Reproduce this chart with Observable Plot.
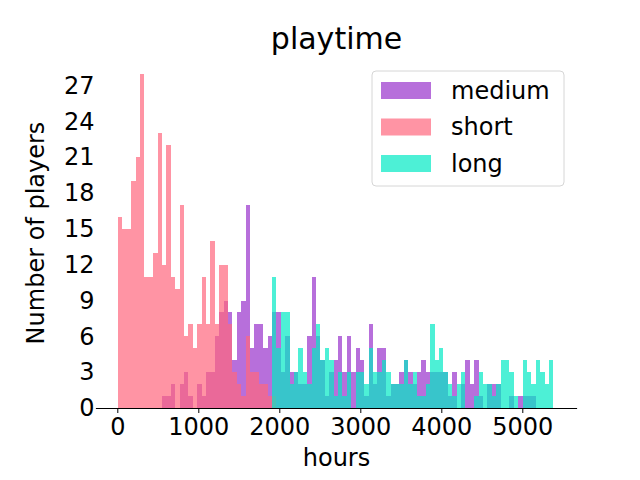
<!DOCTYPE html>
<html>
<head>
<meta charset="utf-8">
<script src="https://cdn.jsdelivr.net/npm/d3@7"></script>
<script src="https://cdn.jsdelivr.net/npm/@observablehq/plot@0.6"></script>
<style>
  html, body { margin: 0; padding: 0; background: #fff; }
  svg { display: block; }
</style>
</head>
<body>
<div id="chart"></div>
<script>
// Shared histogram bins (hours): left edge of bin 0 and bin width
const binStart = 8.6;
const binWidth = 54.3;

// Series names, in drawing order
const seriesNames = ["medium", "short", "long"];
const seriesColors = ["#9932cc", "#ff667d", "#02e9c4"];

// Index of the first bin each series occupies
const mediumFirstBin = 10;
const shortFirstBin = 0;
const longFirstBin = 35;

// Number of players per bin
const mediumCounts = [
  1, 1, 2, 0, 2, 3, 1, 0, 2, 1,
  3, 3, 6, 8, 9, 8, 4, 8, 9, 17,
  5, 7, 7, 5, 6, 8, 8, 3, 6, 3,
  3, 2, 2, 6, 11, 6, 4, 1, 3, 4,
  6, 3, 6, 3, 5, 4, 1, 7, 2, 5,
  5, 1, 2, 2, 3, 4, 3, 2, 3, 4,
  3, 3, 3, 3, 3, 1, 3, 0, 2, 4,
  2, 4, 1, 0, 2, 2, 2, 0, 0, 1,
  0, 1, 1, 1, 1
];
const shortCounts = [
  16, 15, 15, 19, 21, 28, 11, 11, 13, 23,
  12, 22, 11, 10, 17, 6, 7, 5, 7, 11,
  7, 14, 7, 12, 12, 7, 3, 2, 1, 6,
  3, 3, 2, 2, 1, 1
];
const longCounts = [
  11, 5, 8, 8, 2, 3, 5, 3, 2, 5,
  7, 4, 5, 4, 1, 3, 1, 3, 0, 3,
  3, 2, 5, 3, 3, 4, 3, 2, 2, 2,
  4, 2, 3, 1, 1, 2, 7, 4, 5, 3,
  2, 1, 2, 3, 0, 0, 1, 3, 2, 2,
  1, 2, 4, 4, 3, 1, 0, 4, 3, 2,
  4, 3, 2, 4
];

const xTicks = [0, 1000, 2000, 3000, 4000, 5000];
const yTicks = [0, 3, 6, 9, 12, 15, 18, 21, 24, 27];

// Turn a list of counts into rectangles on the shared bin grid
function toBins(counts, firstBin, series) {
  return counts.map((count, k) => {
    const i = firstBin + k;
    return {series, x1: binStart + i * binWidth, x2: binStart + (i + 1) * binWidth, count};
  });
}

const mediumBins = toBins(mediumCounts, mediumFirstBin, "medium");
const shortBins = toBins(shortCounts, shortFirstBin, "short");
const longBins = toBins(longCounts, longFirstBin, "long");

const font = "DejaVu Sans, sans-serif";
const alpha = 0.7;

const chart = Plot.plot({
  width: 640,
  height: 480,
  marginLeft: 96,
  marginRight: 64,
  marginTop: 57,
  marginBottom: 72,
  style: {fontFamily: font, fontSize: "24px", color: "#000", background: "#fff", overflow: "visible"},
  x: {domain: [-263, 5663]},
  y: {domain: [0, 29.4]},
  marks: [
    Plot.rectY(mediumBins, {x1: "x1", x2: "x2", y: "count", fill: seriesColors[0], fillOpacity: alpha, shapeRendering: "crispEdges"}),
    Plot.rectY(shortBins, {x1: "x1", x2: "x2", y: "count", fill: seriesColors[1], fillOpacity: alpha, shapeRendering: "crispEdges"}),
    Plot.rectY(longBins, {x1: "x1", x2: "x2", y: "count", fill: seriesColors[2], fillOpacity: alpha, shapeRendering: "crispEdges"}),
    Plot.frame({anchor: "bottom", stroke: "#000", strokeWidth: 1.2}),
    Plot.axisX({ticks: xTicks, tickFormat: d => String(d), tickSize: 5, tickPadding: 4, fontSize: 24, label: null}),
    Plot.axisY({ticks: yTicks, tickFormat: d => String(d), tickSize: 0, tickPadding: 2, fontSize: 24, label: null}),
    Plot.text(["hours"], {frameAnchor: "bottom", lineAnchor: "middle", dy: 50, fontSize: 24, fill: "#000"}),
    Plot.text(["Number of players"], {frameAnchor: "left", textAnchor: "middle", lineAnchor: "middle", dx: -60, rotate: -90, fontSize: 24, fill: "#000"}),
    Plot.text(["playtime"], {frameAnchor: "top", lineAnchor: "middle", dy: -18, fontSize: 30, fill: "#000"})
  ]
});

document.getElementById("chart").appendChild(chart);

// Legend box in the upper right corner of the plot area
const svg = d3.select(chart);
const legend = svg.append("g")
  .attr("font-family", font).attr("font-size", 24).attr("text-anchor", "start");
legend.append("rect")
  .attr("x", 372).attr("y", 71).attr("width", 192).attr("height", 115)
  .attr("rx", 4).attr("fill", "#fff").attr("fill-opacity", 0.8)
  .attr("stroke", "#d6d6d6").attr("stroke-width", 1);
seriesNames.forEach((name, i) => {
  const y = 82 + i * 36.5;
  legend.append("rect")
    .attr("x", 381).attr("y", y).attr("width", 50).attr("height", 17)
    .attr("fill", seriesColors[i]).attr("fill-opacity", alpha);
  legend.append("text")
    .attr("x", 451).attr("y", y + 8.5).attr("dy", "0.35em")
    .attr("fill", "#000").text(name);
});
</script>
</body>
</html>
